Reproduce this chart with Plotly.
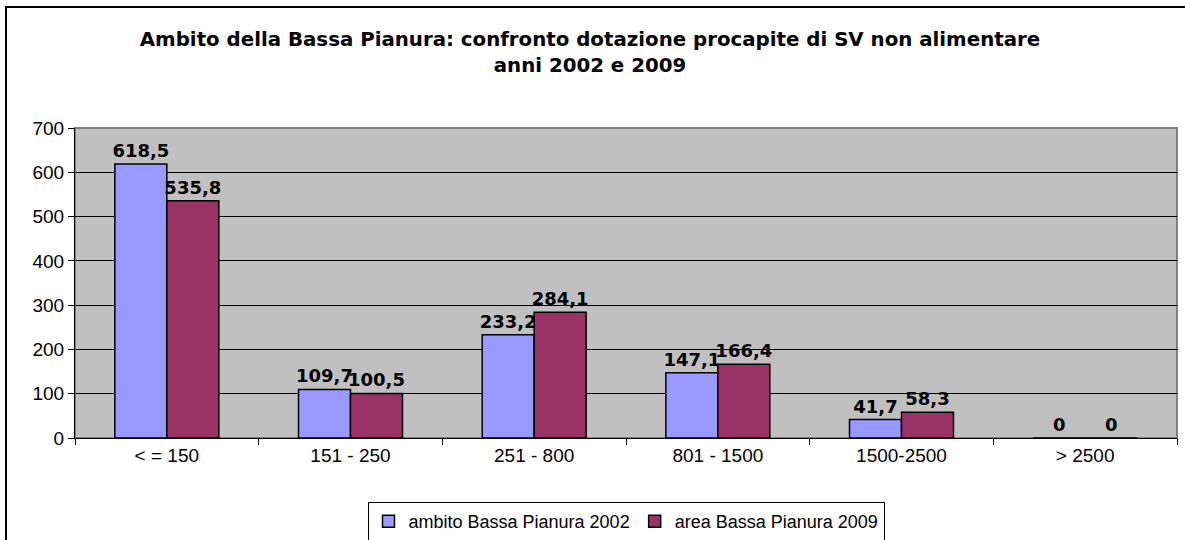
import plotly.graph_objects as go

categories = ["< = 150", "151 - 250", "251 - 800", "801 - 1500", "1500-2500", "> 2500"]
values_2002 = [618.5, 109.7, 233.2, 147.1, 41.7, 0]
values_2009 = [535.8, 100.5, 284.1, 166.4, 58.3, 0]
name_2002 = "ambito Bassa Pianura 2002"
name_2009 = "area Bassa Pianura 2009"
title_text = "Ambito della Bassa Pianura: confronto dotazione procapite di SV non alimentare<br>anni 2002 e 2009"
y_ticks = [0, 100, 200, 300, 400, 500, 600, 700]


def fmt(v):
    return "0" if v == 0 else f"{v:.1f}".replace(".", ",")


W, H = 1185, 540
ml, mr, mt, mb = 75, 8, 128, 102
pw, ph = W - ml - mr, H - mt - mb

label_font = dict(family="DejaVu Sans", size=18, color="black", weight="bold")

fig = go.Figure()
fig.add_trace(go.Bar(
    x=categories, y=values_2002, name=name_2002,
    marker=dict(color="#9999FF", line=dict(color="black", width=1.5)),
    text=[fmt(v) for v in values_2002], textposition="outside",
    textfont=label_font, cliponaxis=False, constraintext="none",
))
fig.add_trace(go.Bar(
    x=categories, y=values_2009, name=name_2009,
    marker=dict(color="#993366", line=dict(color="black", width=1.5)),
    text=[fmt(v) for v in values_2009], textposition="outside",
    textfont=label_font, cliponaxis=False, constraintext="none",
))

# plot-area frame (grey)
fig.add_shape(type="rect", xref="paper", yref="paper", x0=0, x1=1, y0=0, y1=1,
              line=dict(color="#808080", width=2), layer="below")
# outer chart frame
fig.add_shape(type="rect", xref="paper", yref="paper",
              x0=(6 - ml) / pw, x1=(W + 5 - ml) / pw,
              y0=-(H + 5 - mt - ph) / ph, y1=(ph + mt - 7) / ph,
              line=dict(color="black", width=2))

fig.update_layout(
    width=W, height=H,
    margin=dict(l=ml, r=mr, t=mt, b=mb, autoexpand=False),
    paper_bgcolor="white",
    plot_bgcolor="#C0C0C0",
    barmode="group",
    bargap=0.434,
    bargroupgap=0,
    title=dict(text=title_text, x=590 / W, xanchor="center", xref="container",
               yref="container", y=1 - 46 / H, yanchor="top",
               font=dict(family="DejaVu Sans", size=19.8, color="black", weight="bold")),
    font=dict(family="Liberation Sans", size=19, color="black"),
    legend=dict(orientation="h", x=0.5, xanchor="center", y=-(502 - mt - ph) / ph, yanchor="top",
                bordercolor="black", borderwidth=1, bgcolor="white",
                font=dict(family="Liberation Sans", size=18, color="black"),
                itemwidth=30, tracegroupgap=0),
    showlegend=True,
)
fig.update_yaxes(range=[0, 700], tickvals=y_ticks, showgrid=True, gridcolor="black", gridwidth=1,
                 showline=True, linecolor="black", linewidth=1, ticks="outside", ticklen=6,
                 tickcolor="black", zeroline=False, tickfont=dict(size=19), automargin=False)
fig.update_xaxes(showline=True, linecolor="black", linewidth=1, ticks="outside", ticklen=6,
                 tickcolor="black", tickson="boundaries", tickfont=dict(size=19), automargin=False)

fig.write_html("out.html", config={"displayModeBar": False},
               post_script="document.body.style.margin='0';document.body.style.overflow='hidden';")
